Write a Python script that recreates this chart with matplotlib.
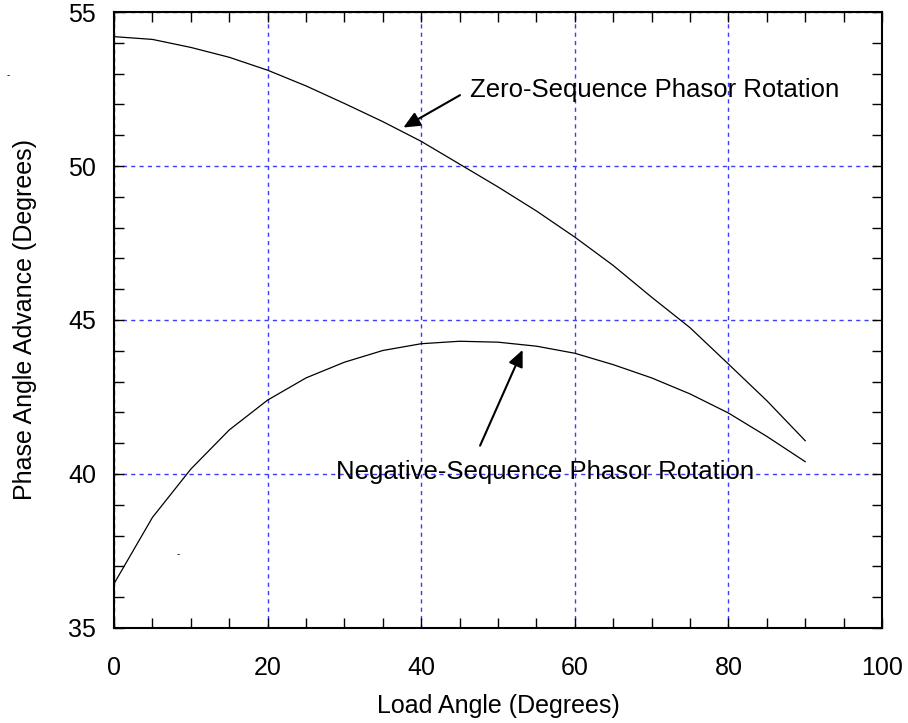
import matplotlib.pyplot as plt
from matplotlib.ticker import MultipleLocator

plt.rcParams['font.family'] = ['Liberation Sans', 'DejaVu Sans']

# Angulo de carga (graus), amostrado de 5 em 5
load_angle = [0, 5, 10, 15, 20, 25, 30, 35, 40, 45,
              50, 55, 60, 65, 70, 75, 80, 85, 90]

# Rotacao do fasor de sequencia zero
zero_seq = [54.20, 54.11, 53.85, 53.53, 53.11, 52.60, 52.03, 51.44, 50.80, 50.06,
            49.32, 48.54, 47.69, 46.77, 45.74, 44.75, 43.57, 42.38, 41.08]

# Rotacao do fasor de sequencia negativa
neg_seq = [36.44, 38.59, 40.16, 41.43, 42.40, 43.12, 43.63, 44.01, 44.23, 44.31,
           44.28, 44.15, 43.92, 43.55, 43.12, 42.60, 41.98, 41.22, 40.40]

zero_label = 'Zero-Sequence Phasor Rotation'
neg_label = 'Negative-Sequence Phasor Rotation'

fig = plt.figure(figsize=(9.08, 7.23), dpi=100)
ax = fig.add_axes([0.1256, 0.1314, 0.8458, 0.852])

ax.plot(load_angle, zero_seq, color='black', linewidth=0.9)
ax.plot(load_angle, neg_seq, color='black', linewidth=0.9)

ax.set_xlim(0, 100)
ax.set_ylim(35, 55)
ax.xaxis.set_major_locator(MultipleLocator(20))
ax.xaxis.set_minor_locator(MultipleLocator(5))
ax.yaxis.set_major_locator(MultipleLocator(5))
ax.yaxis.set_minor_locator(MultipleLocator(1))
ax.tick_params(which='both', direction='in', top=True, right=True,
               length=7, width=1, labelsize=18)
ax.tick_params(axis='x', pad=20)
ax.tick_params(axis='y', pad=13)

ax.grid(True, which='major', color='#3c3cff', linestyle=(0, (3, 3)), linewidth=1)
for s in ax.spines.values():
    s.set_linewidth(1.5)
    s.set_zorder(3)

ax.set_xlabel('Load Angle (Degrees)', fontsize=18, labelpad=10)
ax.set_ylabel('Phase Angle Advance (Degrees)', fontsize=18, labelpad=22)

# Anotacoes com setas
ax.text(46.35, 52.46, zero_label, fontsize=18.5, ha='left', va='center')
ax.annotate('', xy=(37.67, 51.25), xytext=(45.05, 52.30),
            arrowprops=dict(arrowstyle='-|>,head_length=1.0,head_width=0.45',
                            color='black', linewidth=1.5, shrinkA=0, shrinkB=0))

ax.text(56.1, 40.05, neg_label, fontsize=18.5, ha='center', va='center')
ax.annotate('', xy=(53.2, 44.03), xytext=(47.66, 40.92),
            arrowprops=dict(arrowstyle='-|>,head_length=1.0,head_width=0.45',
                            color='black', linewidth=1.5, shrinkA=0, shrinkB=0))

# pequenas marcas soltas presentes na figura original
fig.text(8 / 908, 1 - 75 / 723, '-', fontsize=7, ha='center', va='center')
fig.text(178 / 908, 1 - 554 / 723, '-', fontsize=7, ha='center', va='center')

plt.savefig('out.png', dpi=100)
plt.close()
